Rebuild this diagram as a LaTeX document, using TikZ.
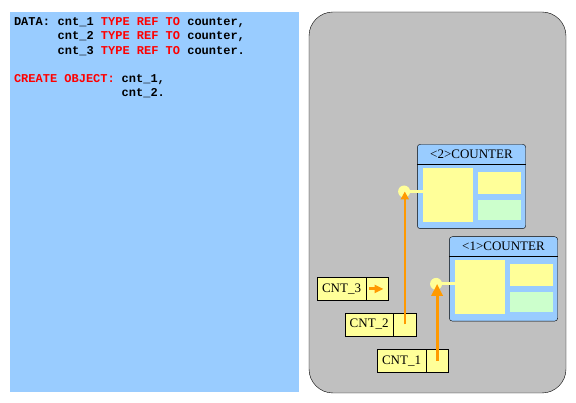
\documentclass[tikz,border=0pt]{standalone}
\usepackage{fontspec}
\setmainfont{Liberation Serif}
\newfontfamily\codefont{Liberation Mono}
\usetikzlibrary{positioning,arrows.meta}
\definecolor{panelblue}{HTML}{99CCFF}
\definecolor{panelgray}{HTML}{C0C0C0}
\definecolor{attryellow}{HTML}{FFFF99}
\definecolor{methgreen}{HTML}{CCFFCC}
\definecolor{ptrorange}{HTML}{FF9900}
\definecolor{keyred}{HTML}{FF0000}
\newcommand{\kw}[1]{\textcolor{keyred}{#1}}
\tikzset{
  code/.style={anchor=base west, font=\codefont\bfseries\fontsize{12}{14}\selectfont},
  objbox/.style={draw, fill=panelblue, rounded corners=3pt, anchor=north west,
    minimum width=108.4pt, minimum height=84.4pt},
  objhead/.style={anchor=north west, minimum width=108.4pt, minimum height=20pt,
    font=\fontsize{13}{15}\selectfont},
  attr/.style={fill=attryellow, anchor=north west},
  meth/.style={fill=methgreen, anchor=north west},
  reflabel/.style={draw, fill=attryellow, minimum width=48.4pt, minimum height=22.6pt,
    font=\fontsize{13}{15}\selectfont},
  refcell/.style={draw, fill=attryellow, minimum width=22.8pt, minimum height=22.6pt},
  refdot/.style={circle, fill=attryellow, minimum size=12pt},
  link/.style={draw=attryellow, line width=3pt},
  ptr/.style={draw=ptrorange, line width=#1}
}
\begin{document}
\begin{tikzpicture}[x=1pt, y=-1pt, every node/.append style={inner sep=0pt, outer sep=0pt}]
  \useasboundingbox (0,0) rectangle (576,403);
  % program
  \fill[panelblue] (10,12) rectangle (299,392);
  \node[code] (kwdata) at (14,25.5) {DATA:};
  \node[code] (decl1) at (57.7,25.5) {cnt\_1 \kw{TYPE REF TO} counter,};
  \node[code] (decl2) at (57.7,39.8) {cnt\_2 \kw{TYPE REF TO} counter,};
  \node[code] (decl3) at (57.7,54.1) {cnt\_3 \kw{TYPE REF TO} counter.};
  \node[code] (kwcreate) at (14,82.7) {\kw{CREATE OBJECT:}};
  \node[code] (new1) at (121.7,82.7) {cnt\_1,};
  \node[code] (new2) at (121.7,97) {cnt\_2.};
  % memory
  \draw[fill=panelgray, rounded corners=24pt] (309,12) rectangle (566,393);
  \foreach \n/\sx/\sy in {2/417.3/144.3, 1/449.3/236.7} {
    \begin{scope}[shift={(\sx,\sy)}]
      \node[objbox] (o\n) at (0,0) {};
      \node[objhead] (h\n) at (0,0) {<\n>COUNTER};
      \draw (h\n.south west) -- (h\n.south east);
      \node[attr, minimum width=50.3pt, minimum height=54pt] (a\n) at (5.4,23.4) {};
      \node[attr, minimum width=43.3pt, minimum height=22pt] (s\n) at (60.4,27.4) {};
      \node[meth, minimum width=43.3pt, minimum height=20.3pt] (m\n) at (60.4,55.4) {};
      \coordinate (pin\n) at (-13.2,47.2);
      \draw[link] (pin\n) -- (pin\n -| a\n.west);
      \node[refdot] (dot\n) at (pin\n) {};
    \end{scope}
  }
  % reference variables
  \node[reflabel] (cnt3) at (341.5,288.9) {CNT\_3};
  \node[refcell, right=0pt of cnt3] (cnt3r) {};
  \node[reflabel] (cnt2) at (369.2,324.5) {CNT\_2};
  \node[refcell, right=0pt of cnt2] (cnt2r) {};
  \node[reflabel] (cnt1) at (401.5,361) {CNT\_1};
  \node[refcell, right=0pt of cnt1] (cnt1r) {};
  \draw[ptr=3pt, -{Triangle[length=9pt,width=8pt]}, shorten <=3.5pt, shorten >=5pt]
    (cnt3r.west) -- (cnt3r.east);
  \draw[ptr=2pt, -{Triangle[length=8pt,width=8pt]}]
    (cnt2r.center) -- (cnt2r.center |- dot2.center);
  \draw[ptr=3pt, -{Triangle[length=12pt,width=11pt]}]
    (cnt1r.center) -- (cnt1r.center |- dot1.center);
\end{tikzpicture}
\end{document}
